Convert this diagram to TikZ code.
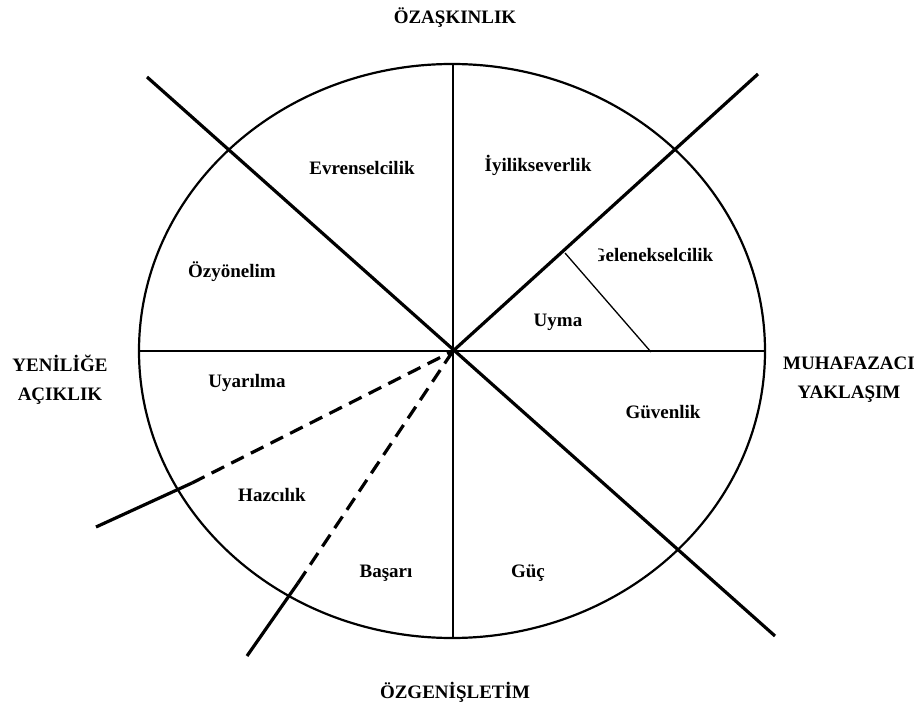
\documentclass[tikz,border=0pt]{standalone}
\usepackage{fontspec}
\setmainfont{Liberation Serif}
\begin{document}
\begin{tikzpicture}[x=1pt,y=-1pt,
  lab/.style={font=\fontsize{19}{22}\selectfont\bfseries, inner sep=0pt},
  thickline/.style={line width=3.2pt},
  thinline/.style={line width=1.3pt},
  dashline/.style={line width=3.2pt, dash pattern=on 14pt off 8pt},
  rim/.style={line width=2.2pt}]
\useasboundingbox (0,0) rectangle (919,711);
% key points
\coordinate (c) at (453,351);
\coordinate (top) at (453,64);
\coordinate (bot) at (453,638);
\coordinate (lft) at (139,351);
\coordinate (rgt) at (765,351);
\coordinate (nw) at (147,77);
\coordinate (se) at (775,636);
\coordinate (ne) at (758,74);
\coordinate (w1) at (96,527);
\coordinate (w1b) at (192,483);
\coordinate (s1) at (247,656);
\coordinate (s1b) at (298,583);
\coordinate (t1) at (565,253);
\coordinate (t2) at (651,352);
% ellipse
\draw[rim] (452,351) ellipse [x radius=313pt, y radius=287pt];
% thin axes
\draw[thinline] (top) -- (bot);
\draw[thinline] (lft) -- (rgt);
\draw[thinline] (t1) -- (t2);
% thick diagonals
\draw[thickline] (nw) -- (se);
\draw[thickline] (c) -- (ne);
\draw[thickline] (w1) -- (w1b);
\draw[dashline] (w1b) -- (c);
\draw[thickline] (s1) -- (s1b);
\draw[dashline] (s1b) -- (c);
% sector labels
\node[lab] (evr) at (362,168) {Evrenselcilik};
\node[lab] (iyi) at (538,165) {İyilikseverlik};
\node[lab] (gel) at (652,255) {Gelenekselcilik};
\fill[white] ([xshift=-1pt,yshift=-2pt]gel.south west) rectangle ([xshift=7pt,yshift=2pt]gel.north west);
\node[lab] (ozy) at (232,272) {Özyönelim};
\node[lab] (uym) at (558,322) {Uyma};
\node[lab] (uya) at (247,383) {Uyarılma};
\node[lab] (guv) at (663,412) {Güvenlik};
\node[lab] (haz) at (272,495) {Hazcılık};
\node[lab] (bas) at (386,573) {Başarı};
\node[lab] (guc) at (528,573) {Güç};
% outer labels
\node[lab] (oza) at (455,18) {ÖZAŞKINLIK};
\node[lab] (ozg) at (455,692) {ÖZGENİŞLETİM};
\node[lab, align=center] (yen) at (60,380) {YENİLİĞE\\[7pt]AÇIKLIK};
\node[lab, align=center] (muh) at (849,380) {MUHAFAZACI\\[7pt]YAKLAŞIM};
\end{tikzpicture}
\end{document}
